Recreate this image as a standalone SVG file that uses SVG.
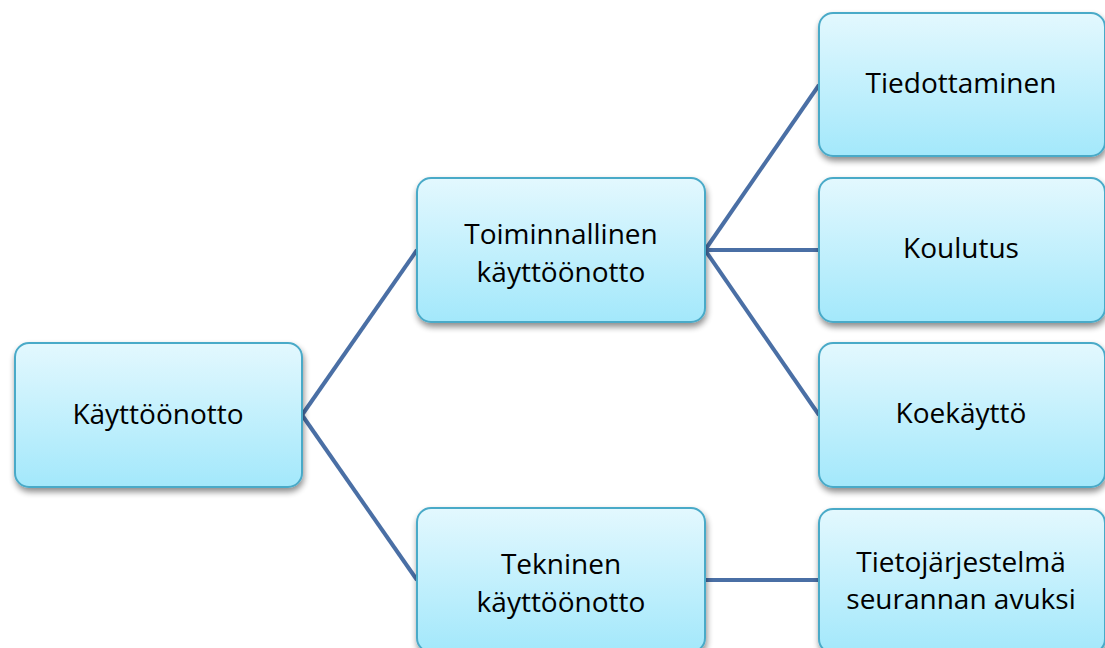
<svg xmlns="http://www.w3.org/2000/svg" width="1105" height="648" viewBox="0 0 1105 648">
<defs>
<linearGradient id="g" x1="0" y1="0" x2="0" y2="1">
<stop offset="0" stop-color="#e3f8fe"/>
<stop offset="1" stop-color="#a3e8fb"/>
</linearGradient>
<filter id="sh" x="-10%" y="-10%" width="120%" height="130%">
<feGaussianBlur in="SourceAlpha" stdDeviation="3"/>
<feOffset dx="1" dy="4" result="b"/>
<feComponentTransfer><feFuncA type="linear" slope="0.45"/></feComponentTransfer>
<feMerge><feMergeNode/><feMergeNode in="SourceGraphic"/></feMerge>
</filter>
</defs>
<style>
.box{fill:url(#g);stroke:#4aaac8;stroke-width:2;filter:url(#sh)}
.t{font-family:"Open Sans","Liberation Sans",Arial,sans-serif;font-size:28px;fill:#000;text-anchor:middle}
.c{stroke:#4a6fa5;stroke-width:4;fill:none}
</style>
<rect width="1105" height="648" fill="#fff"/>
<g id="connectors">
<line class="c" x1="302" y1="415" x2="417" y2="250"/>
<line class="c" x1="302" y1="415" x2="417" y2="580"/>
<line class="c" x1="705" y1="250" x2="819" y2="85"/>
<line class="c" x1="705" y1="250" x2="819" y2="250"/>
<line class="c" x1="705" y1="250" x2="819" y2="415"/>
<line class="c" x1="705" y1="580" x2="819" y2="580"/>
</g>
<g id="n-kayttoonotto">
<rect class="box" x="15" y="343" width="287" height="144" rx="14"/>
<text class="t" x="158" y="424">Käyttöönotto</text>
</g>
<g id="n-toiminnallinen">
<rect class="box" x="417" y="178" width="288" height="144" rx="14"/>
<text class="t" x="561" y="244">Toiminnallinen</text>
<text class="t" x="561" y="282">käyttöönotto</text>
</g>
<g id="n-tekninen">
<rect class="box" x="417" y="508" width="288" height="144" rx="14"/>
<text class="t" x="561" y="574">Tekninen</text>
<text class="t" x="561" y="612">käyttöönotto</text>
</g>
<g id="n-tiedottaminen">
<rect class="box" x="819" y="13" width="286" height="143" rx="14"/>
<text class="t" x="961" y="93">Tiedottaminen</text>
</g>
<g id="n-koulutus">
<rect class="box" x="819" y="178" width="286" height="144" rx="14"/>
<text class="t" x="961" y="258">Koulutus</text>
</g>
<g id="n-koekaytto">
<rect class="box" x="819" y="343" width="286" height="144" rx="14"/>
<text class="t" x="961" y="423">Koekäyttö</text>
</g>
<g id="n-tietojarjestelma">
<rect class="box" x="819" y="509" width="286" height="144" rx="14"/>
<text class="t" x="961" y="572">Tietojärjestelmä</text>
<text class="t" x="961" y="609">seurannan avuksi</text>
</g>
</svg>
